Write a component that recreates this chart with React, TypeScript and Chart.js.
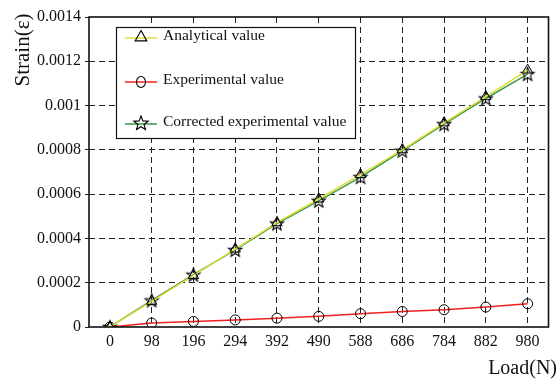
import React, { useEffect, useRef } from "react";
import { Chart, registerables } from "chart.js";

Chart.register(...registerables);

const loads = ["0", "98", "196", "294", "392", "490", "588", "686", "784", "882", "980"];
const analyticalValues = [0, 0.000116, 0.000233, 0.000352, 0.000471, 0.000578, 0.000688, 0.0008, 0.000922, 0.00104, 0.00116];
const experimentalValues = [0, 0.000018, 0.000025, 0.000032, 0.00004, 0.000048, 0.00006, 0.00007, 0.000078, 0.00009, 0.000105];
const correctedValues = [0, 0.00012, 0.000236, 0.000348, 0.000467, 0.00057, 0.000677, 0.000796, 0.000916, 0.001032, 0.001142];
const legendLabels = ["Analytical value", "Experimental value", "Corrected experimental value"];
const yMin = 0;
const yMax = 0.0014;
const yStep = 0.0002;

const FONT = "'Liberation Serif', 'Times New Roman', serif";
const YELLOW = "#dede3a";
const RED = "#f02020";
const GREEN = "#3c9a48";

function starPath(ctx: CanvasRenderingContext2D, cx: number, cy: number, R: number, r: number) {
  ctx.beginPath();
  for (let i = 0; i < 10; i++) {
    const rad = i % 2 === 0 ? R : r;
    const a = -Math.PI / 2 + (i * Math.PI) / 5;
    const x = cx + rad * Math.cos(a);
    const y = cy + rad * Math.sin(a);
    if (i === 0) ctx.moveTo(x, y);
    else ctx.lineTo(x, y);
  }
  ctx.closePath();
}

function makeStar(): HTMLCanvasElement {
  const c = document.createElement("canvas");
  c.width = 18;
  c.height = 18;
  const g = c.getContext("2d")!;
  g.strokeStyle = "#000";
  g.lineWidth = 1.1;
  starPath(g, 9, 9.5, 7, 3);
  g.stroke();
  return c;
}

function drawTriangle(ctx: CanvasRenderingContext2D, x: number, y: number, s: number) {
  ctx.beginPath();
  ctx.moveTo(x, y - s);
  ctx.lineTo(x + s * 0.9, y + s * 0.6);
  ctx.lineTo(x - s * 0.9, y + s * 0.6);
  ctx.closePath();
  ctx.stroke();
}

const framePlugin = {
  id: "frame",
  afterDatasetsDraw(chart: any) {
    const { ctx, chartArea: a } = chart;
    ctx.save();
    ctx.strokeStyle = "#111";
    ctx.lineWidth = 1.6;
    ctx.strokeRect(a.left, a.top, a.right - a.left, a.bottom - a.top);
    ctx.restore();
  },
};

const legendPlugin = {
  id: "customLegend",
  afterDraw(chart: any) {
    const ctx: CanvasRenderingContext2D = chart.ctx;
    const bx = 116, by = 27, bw = 239, bh = 111;
    ctx.save();
    ctx.fillStyle = "#fff";
    ctx.fillRect(bx, by, bw, bh);
    ctx.strokeStyle = "#111";
    ctx.lineWidth = 1.2;
    ctx.strokeRect(bx + 0.5, by + 0.5, bw, bh);
    const rows = [36, 80, 122];
    const colors = [YELLOW, RED, GREEN];
    rows.forEach((ry, i) => {
      ctx.strokeStyle = colors[i];
      ctx.lineWidth = 1.5;
      ctx.beginPath();
      ctx.moveTo(125, ry + 2);
      ctx.lineTo(157, ry + 2);
      ctx.stroke();
      ctx.strokeStyle = "#000";
      ctx.lineWidth = 1.1;
      if (i === 0) drawTriangle(ctx, 141, ry + 1, 6.5);
      else if (i === 1) {
        ctx.beginPath();
        ctx.ellipse(141, ry + 2, 4.5, 5.5, 0, 0, Math.PI * 2);
        ctx.stroke();
      } else {
        starPath(ctx, 141, ry + 1.5, 7.5, 3.2);
        ctx.stroke();
      }
      ctx.fillStyle = "#111";
      ctx.font = `15.5px ${FONT}`;
      ctx.textBaseline = "middle";
      ctx.textAlign = "left";
      ctx.fillText(legendLabels[i], 163, ry);
    });
    // axis titles
    ctx.fillStyle = "#111";
    ctx.font = `20px ${FONT}`;
    ctx.textAlign = "right";
    ctx.textBaseline = "alphabetic";
    ctx.fillText("Load(N)", 557, 374);
    ctx.save();
    ctx.font = `21px ${FONT}`;
    ctx.translate(29, 50);
    ctx.rotate(-Math.PI / 2);
    ctx.textAlign = "center";
    ctx.fillText("Strain(\u03b5)", 0, 0);
    ctx.restore();
    ctx.restore();
  },
};

export default function App() {
  const ref = useRef<HTMLCanvasElement>(null);
  useEffect(() => {
    if (!ref.current) return;
    const star = makeStar();
    const chart = new Chart(ref.current, {
      type: "line",
      data: {
        labels: loads,
        datasets: [
          {
            label: legendLabels[0],
            data: analyticalValues,
            borderColor: YELLOW,
            borderWidth: 1.5,
            pointStyle: "triangle",
            pointRadius: 6,
            pointBorderColor: "#000",
            pointBackgroundColor: "rgba(0,0,0,0)",
            pointBorderWidth: 1,
          },
          {
            label: legendLabels[1],
            data: experimentalValues,
            borderColor: RED,
            borderWidth: 1.5,
            pointStyle: "circle",
            pointRadius: 5,
            pointBorderColor: "#000",
            pointBackgroundColor: "rgba(0,0,0,0)",
            pointBorderWidth: 1,
          },
          {
            label: legendLabels[2],
            data: correctedValues,
            borderColor: GREEN,
            borderWidth: 1.5,
            pointStyle: star as any,
            pointRadius: 7,
          },
        ],
      },
      options: {
        animation: false,
        responsive: false,
        maintainAspectRatio: false,
        layout: { padding: { left: 0, top: 17, right: 2, bottom: 0 } },
        plugins: { legend: { display: false }, tooltip: { enabled: false } },
        scales: {
          x: {
            type: "category",
            offset: true,
            afterFit: (s: any) => {
              s.height = 53;
            },
            border: { display: false, dash: [6, 4] },
            grid: {
              drawTicks: false,
              color: (c: any) => (c.index === 0 ? "rgba(0,0,0,0)" : "#222"),
              lineWidth: 1,
            },
            ticks: {
              color: "#111",
              font: { family: FONT, size: 16 },
              padding: 5,
              maxRotation: 0,
              autoSkip: false,
            },
          },
          y: {
            min: yMin,
            max: yMax,
            afterFit: (s: any) => {
              s.width = 89;
            },
            border: { display: false, dash: [6, 4] },
            grid: {
              color: (c: any) =>
                c.index === 0 || c.index === 7 ? "rgba(0,0,0,0)" : "#222",
              tickColor: "#222",
              tickLength: 4,
              tickBorderDash: [],
              lineWidth: 1,
            },
            ticks: {
              stepSize: yStep,
              color: "#111",
              font: { family: FONT, size: 16 },
              padding: 4,
              callback: (v: any) => String(Number(Number(v).toFixed(4))),
            },
          },
        },
      },
      plugins: [framePlugin, legendPlugin],
    });
    return () => chart.destroy();
  }, []);
  return (
    <div style={{ position: "fixed", left: 0, top: 0, width: 557, height: 380, background: "#fff" }}>
      <canvas ref={ref} width={557} height={380} style={{ width: 557, height: 380 }} />
    </div>
  );
}
